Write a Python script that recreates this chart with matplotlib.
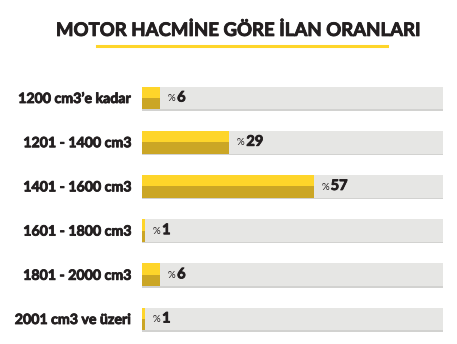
import matplotlib.pyplot as plt
from matplotlib.lines import Line2D
import matplotlib.patheffects as pe

# ── Data ───────────────────────────────────────────
categories = ["1200 cm3\u2019e kadar", "1201 - 1400 cm3", "1401 - 1600 cm3",
              "1601 - 1800 cm3", "1801 - 2000 cm3", "2001 cm3 ve üzeri"]
shares = [6, 29, 57, 1, 6, 1]
title = "MOTOR HACMİNE GÖRE İLAN ORANLARI"

# ── Style ──────────────────────────────────────────
YELLOW = "#FED52A"
GOLD = "#CBA625"
GREY = "#E6E6E4"
SHADOW = "#D2D2D0"
INK = "#231F20"
plt.rcParams['font.family'] = ['Lato', 'DejaVu Sans']
thick = [pe.withStroke(linewidth=0.6, foreground=INK)]

W, H = 457, 344
fig = plt.figure(figsize=(W / 100, H / 100), dpi=100)

# axes placed in pixel terms: x 142..443, rows every ~44px starting at y=98
step = 44.2
top_px = 98 - 0.5 * step
bot_px = top_px + 6 * step
ax = fig.add_axes([142 / W, 1 - bot_px / H, 301 / W, (bot_px - top_px) / H])
ax.set_xlim(0, 100)
ax.set_ylim(5.5, -0.5)

ypos = list(range(len(categories)))
bh = 0.52

# background track + faint shadow line
ax.barh([y + bh / 2 + 0.015 for y in ypos], 100, height=0.03, color=SHADOW, lw=0)
ax.barh(ypos, 100, height=bh, color=GREY, lw=0)
# two-tone value bars
ax.barh([y - bh / 4 for y in ypos], shares, height=bh / 2, color=YELLOW, lw=0)
ax.barh([y + bh / 4 for y in ypos], shares, height=bh / 2, color=GOLD, lw=0)

for y, v in zip(ypos, shares):
    ax.annotate("%", (v, y), xytext=(5.5, -0.5), textcoords="offset points",
                ha="left", va="center", fontsize=7, color=INK)
    ax.annotate(str(v), (v, y), xytext=(12.3, 0.3), textcoords="offset points",
                ha="left", va="center", fontsize=10.5, fontweight="bold",
                color=INK, path_effects=thick)

ax.set_yticks(ypos)
ax.set_yticklabels(categories, fontsize=10.2, fontweight="bold", color=INK)
for lbl in ax.get_yticklabels():
    lbl.set_path_effects(thick)
ax.tick_params(axis="y", length=0, pad=7.9)
ax.set_xticks([])
for s in ax.spines.values():
    s.set_visible(False)

fig.text(238.5 / W, 1 - 30 / H, title, ha="center", va="center",
         fontsize=13.4, fontweight="bold", color=INK, path_effects=thick)
fig.add_artist(Line2D([97 / W, 387 / W], [1 - 46 / H, 1 - 46 / H],
                      color=YELLOW, lw=2.2, transform=fig.transFigure))

fig.savefig("out.png", dpi=100)
